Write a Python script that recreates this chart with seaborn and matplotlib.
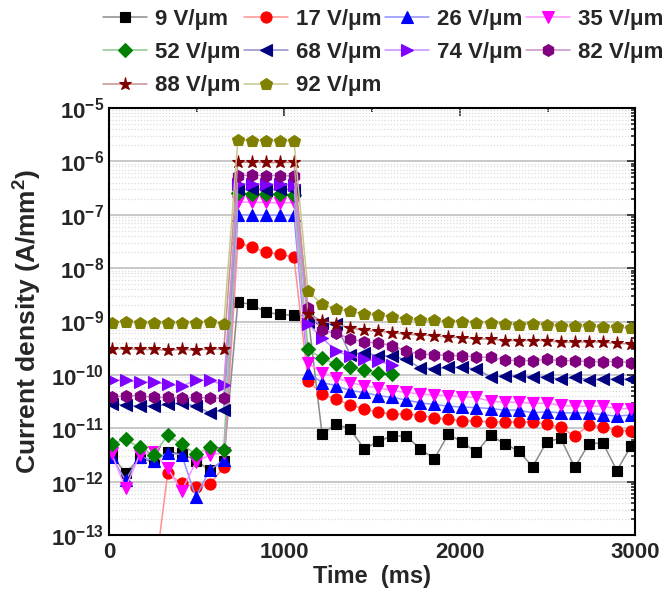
import numpy as np
import pandas as pd
import matplotlib
matplotlib.use("Agg")
import matplotlib.pyplot as plt
from matplotlib.ticker import FixedLocator, FuncFormatter, MultipleLocator, NullFormatter
import seaborn as sns

# ---------------- data ----------------
time_ms = [15, 95, 175, 255, 335, 415, 495, 575, 655, 735, 815, 895, 975, 1055,
           1135, 1215, 1295, 1375, 1455, 1535, 1615, 1695, 1775, 1855, 1935, 2015,
           2095, 2175, 2255, 2335, 2415, 2495, 2575, 2655, 2735, 2815, 2895, 2975]

labels = ["9 V/\u03bcm", "17 V/\u03bcm", "26 V/\u03bcm", "35 V/\u03bcm", "52 V/\u03bcm",
          "68 V/\u03bcm", "74 V/\u03bcm", "82 V/\u03bcm", "88 V/\u03bcm", "92 V/\u03bcm"]

y_decades = [-13, -12, -11, -10, -9, -8, -7, -6, -5]

nan = np.nan
j_9 = [3.2e-12, 1.45e-12, 2.75e-12, 2.35e-12, 3.6e-12, 3.4e-12, 2.5e-12, 1.66e-12, 2.5e-12,
       2.3e-9, 2.1e-9, 1.48e-9, 1.37e-9, 1.3e-9,
       1.3e-9, 7.8e-12, 1.2e-11, 9.8e-12, 4.1e-12, 5.75e-12, 7.2e-12, 7.2e-12, 4.1e-12, 2.7e-12,
       7.8e-12, 5.5e-12, 3.55e-12,
       7.5e-12, 5.1e-12, 3.8e-12, 1.9e-12, 5.6e-12, 6.5e-12, 1.86e-12, 5.1e-12, 5.4e-12, 1.62e-12, 4.6e-12]
j_17 = [nan, nan, nan, 1.2e-14, 1.45e-12, 9.3e-13, 8.0e-13, 9.1e-13, 1.86e-12,
        3.0e-8, 2.45e-8, 2.0e-8, 1.8e-8, 1.6e-8,
        7.6e-11, 4.4e-11, 3.5e-11, 2.75e-11, 2.3e-11, 2.0e-11, 1.86e-11, 1.86e-11, 1.74e-11, 1.58e-11,
        1.48e-11, 1.38e-11, 1.38e-11,
        1.32e-11, 1.32e-11, 1.32e-11, 1.32e-11, 1.2e-11, 1.05e-11, 7.1e-12, 1.15e-11, 1.07e-11, 9.1e-12, 9.1e-12]
j_26 = [2.95e-12, 1.07e-12, 2.95e-12, 2.5e-12, 3.5e-12, 3.2e-12, 5.2e-13, 1.66e-12, 2.6e-12,
        1.0e-7, 9.8e-8, 9.8e-8, 9.7e-8, 9.7e-8,
        1.1e-10, 7.2e-11, 6.3e-11, 5.1e-11, 4.7e-11, 4.1e-11, 3.8e-11, 3.4e-11, 3.0e-11, 2.8e-11,
        2.6e-11, 2.5e-11, 2.45e-11,
        2.35e-11, 2.2e-11, 2.2e-11, 1.95e-11, 2.05e-11, 1.95e-11, 1.95e-11, 1.95e-11, 1.8e-11, 1.7e-11, 1.78e-11]
j_35 = [3.4e-12, 7.6e-13, 3.2e-12, 3.6e-12, 1.8e-12, 6.8e-13, 2.3e-12, 3.2e-12, 3.5e-12,
        1.75e-7, 1.7e-7, 1.7e-7, 1.65e-7, 1.7e-7,
        1.7e-10, 1.1e-10, 8.9e-11, 7.2e-11, 6.3e-11, 5.75e-11, 5.1e-11, 4.7e-11, 4.4e-11, 4.2e-11,
        4.1e-11, 3.9e-11, 3.8e-11,
        3.2e-11, 3.1e-11, 3.1e-11, 2.95e-11, 2.95e-11, 2.7e-11, 2.6e-11, 2.6e-11, 2.6e-11, 2.35e-11, 2.35e-11]
j_52 = [5.2e-12, 6.2e-12, 4.4e-12, 3.2e-12, 7.4e-12, 5.0e-12, 3.3e-12, 4.4e-12, 4.0e-12,
        2.5e-7, 2.4e-7, 2.4e-7, 2.4e-7, 2.3e-7,
        3.0e-10, 2.05e-10, 1.6e-10, 1.38e-10, 1.26e-10, 1.1e-10, 1.02e-10,
        nan, nan, nan, nan, nan, nan, nan, nan, nan, nan, nan, nan, nan, nan, nan, nan, nan]
j_68 = [2.9e-11, 2.7e-11, 2.6e-11, 2.6e-11, 2.8e-11, 3.0e-11, 2.6e-11, 1.95e-11, 2.2e-11,
        3.0e-7, 3.0e-7, 2.95e-7, 3.0e-7, 2.95e-7,
        1.0e-9, 9.3e-10, 8.9e-10, 2.4e-10, 2.6e-10, 2.3e-10, 2.24e-10, 1.95e-10, 1.35e-10, 1.32e-10,
        1.38e-10, 1.38e-10, 1.29e-10,
        9.3e-11, 9.5e-11, 9.5e-11, 9.3e-11, 9.1e-11, 8.3e-11, 9.1e-11, 8.1e-11, 8.3e-11, 8.3e-11, 8.3e-11]
j_74 = [8.1e-11, 7.9e-11, 7.3e-11, 7.3e-11, 6.8e-11, 6.1e-11, 8.1e-11, 7.9e-11, 6.6e-11,
        3.8e-7, 3.7e-7, 3.7e-7, 3.7e-7, 3.6e-7,
        8.9e-10, 5.0e-10, 2.8e-10, 2.24e-10, 2.0e-10, 1.8e-10, 1.55e-10,
        nan, nan, nan, nan, nan, nan, nan, nan, nan, nan, nan, nan, nan, nan, nan, nan, nan]
j_82 = [3.8e-11, 4.1e-11, 4.1e-11, 3.8e-11, 3.8e-11, 3.7e-11, 3.8e-11, 3.7e-11, 3.7e-11,
        5.4e-7, 5.5e-7, 5.4e-7, 5.4e-7, 5.3e-7,
        1.78e-9, 6.9e-10, 6.0e-10, 4.8e-10, 4.1e-10, 4.0e-10, 3.5e-10, 2.8e-10, 2.45e-10, 2.4e-10,
        2.3e-10, 2.3e-10, 2.15e-10,
        2.15e-10, 1.9e-10, 1.85e-10, 1.85e-10, 1.95e-10, 1.85e-10, 1.85e-10, 1.78e-10, 1.78e-10, 1.78e-10, 1.7e-10]
j_88 = [3.0e-10, 3.1e-10, 3.0e-10, 3.0e-10, 2.9e-10, 3.0e-10, 2.9e-10, 3.05e-10, 3.0e-10,
        9.6e-7, 9.6e-7, 9.5e-7, 9.5e-7, 9.5e-7,
        1.4e-9, 1.02e-9, 8.9e-10, 7.6e-10, 6.8e-10, 6.6e-10, 6.2e-10, 5.75e-10, 5.6e-10, 5.4e-10,
        5.1e-10, 5.0e-10, 4.7e-10,
        4.7e-10, 4.4e-10, 4.4e-10, 4.4e-10, 4.4e-10, 4.1e-10, 4.1e-10, 4.2e-10, 4.1e-10, 3.9e-10, 3.8e-10]
j_92 = [9.5e-10, 1.0e-9, 9.3e-10, 9.3e-10, 9.3e-10, 9.5e-10, 9.3e-10, 1.0e-9, 8.9e-10,
        2.5e-6, 2.45e-6, 2.4e-6, 2.4e-6, 2.4e-6,
        3.7e-9, 2.1e-9, 1.7e-9, 1.55e-9, 1.38e-9, 1.32e-9, 1.2e-9, 1.1e-9, 1.05e-9, 1.05e-9,
        1.0e-9, 1.0e-9, 9.5e-10,
        9.5e-10, 9.1e-10, 8.7e-10, 9.1e-10, 8.7e-10, 8.1e-10, 8.1e-10, 8.1e-10, 7.8e-10, 7.8e-10, 7.5e-10]

series = [j_9, j_17, j_26, j_35, j_52, j_68, j_74, j_82, j_88, j_92]

# ---------------- style ----------------
marker_colors = ["#000000", "#ff0000", "#0000ff", "#ff00ff", "#008000",
                 "#000080", "#8000ff", "#800080", "#800000", "#808000"]
line_colors = ["#8a8a8a", "#ff9090", "#9090ff", "#ff90ff", "#90c890",
               "#9090c8", "#c890ff", "#c890c8", "#c89090", "#c8c890"]
markers = ["s", "o", "^", "v", "D", "<", ">", "h", "*", "p"]
msizes = [7.5, 8, 8.5, 8.5, 7, 8.5, 8.5, 8.5, 9.5, 9]

sns.set_style("white")
plt.rcParams["font.family"] = ["Liberation Sans", "DejaVu Sans"]
plt.rcParams["font.weight"] = "bold"
plt.rcParams["mathtext.fontset"] = "custom"
plt.rcParams["mathtext.rm"] = "Liberation Sans:bold"
plt.rcParams["mathtext.bf"] = "Liberation Sans:bold"
plt.rcParams["mathtext.it"] = "Liberation Sans:bold:italic"

fig = plt.figure(figsize=(6.68, 5.96), dpi=100)
ax = fig.add_axes([0.163, 0.102, 0.788, 0.717])
ax.set_yscale("log")

for vals, lab, mc, lc, mk, ms in zip(series, labels, marker_colors, line_colors, markers, msizes):
    df = pd.DataFrame({"t": time_ms, "j": vals})
    sns.lineplot(data=df, x="t", y="j", ax=ax, color=lc, linewidth=1.1,
                 marker=mk, markersize=ms, markerfacecolor=mc, markeredgecolor=mc,
                 markeredgewidth=0.8, label=lab, errorbar=None, sort=False)

ax.set_xlim(0, 3000)
ax.set_ylim(1e-13, 1e-5)

ax.xaxis.set_major_locator(MultipleLocator(1000))
ax.xaxis.set_minor_locator(MultipleLocator(500))
major_y = [10.0 ** d for d in y_decades]
minor_y = [m * 10.0 ** d for d in y_decades[:-1] for m in range(2, 10)]
ax.yaxis.set_major_locator(FixedLocator(major_y))
ax.yaxis.set_minor_locator(FixedLocator(minor_y))
ax.yaxis.set_minor_formatter(NullFormatter())
ax.yaxis.set_major_formatter(FuncFormatter(lambda v, p: r"$10^{%d}$" % int(round(np.log10(v)))))

ax.grid(True, which="major", axis="y", color="#c8c8c8", linewidth=1.4, linestyle="-")
ax.grid(True, which="minor", axis="y", color="#dcdcdc", linewidth=0.9, linestyle=(0, (1, 1.5)))
ax.set_axisbelow(True)

ax.tick_params(axis="both", which="both", direction="in", top=True, right=True,
               labelsize=16, width=1.2)
ax.tick_params(axis="both", which="major", length=6)
ax.tick_params(axis="x", which="major", pad=5)
ax.tick_params(axis="both", which="minor", length=3)
for lab in ax.get_xticklabels() + ax.get_yticklabels():
    lab.set_fontweight("bold")
for sp in ax.spines.values():
    sp.set_linewidth(1.5)
    sp.set_color("black")

ax.set_xlabel("Time  (ms)", fontsize=17, fontweight="bold", labelpad=1)
ax.set_ylabel("Current density (A/mm$^{2}$)", fontsize=19, fontweight="bold", labelpad=5)

handles, labs = ax.get_legend_handles_labels()
if ax.get_legend() is not None:
    ax.get_legend().remove()
# matplotlib fills legend columns first; reorder so entries read row by row
order = [0, 4, 8, 1, 5, 9, 2, 6, 3, 7]
fig.legend([handles[i] for i in order], [labs[i] for i in order], ncol=4,
           loc="upper left", bbox_to_anchor=(103 / 668, 1 - 9 / 596),
           frameon=False, handlelength=2.0, handletextpad=0.35,
           columnspacing=0.15, labelspacing=0.55, borderpad=0, borderaxespad=0,
           prop={"weight": "bold", "size": 16})

fig.savefig("out.png", dpi=100)
